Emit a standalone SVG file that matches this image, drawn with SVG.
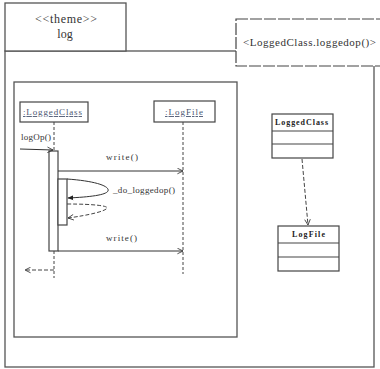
<svg xmlns="http://www.w3.org/2000/svg" width="380" height="369" viewBox="0 0 380 369">
  <style>
    .frame { fill: #fff; stroke: #555; stroke-width: 1.3; }
    .box { fill: #fff; stroke: #444; stroke-width: 1.2; }
    .line { fill: none; stroke: #333; stroke-width: 1; }
    .dash { fill: none; stroke: #444; stroke-width: 1; stroke-dasharray: 4 2; }
    .life { fill: none; stroke: #444; stroke-width: 1; stroke-dasharray: 3 2; }
    .t { font-family: "Liberation Serif", "DejaVu Serif", serif; fill: #333; }
    .lbl { font-size: 9px; }
    .u { text-decoration: underline; fill: #4a5570; }
    .cls { font-size: 8px; font-weight: bold; fill: #222; }
  </style>
  <defs>
    <marker id="open" viewBox="0 0 10 10" refX="9" refY="5" markerWidth="7" markerHeight="7" orient="auto-start-reverse">
      <path d="M1,1 L9,5 L1,9" fill="none" stroke="#333" stroke-width="1.2"/>
    </marker>
    <marker id="filled" viewBox="0 0 10 10" refX="9" refY="5" markerWidth="6" markerHeight="6" orient="auto">
      <path d="M0,1 L10,5 L0,9 Z" fill="#222"/>
    </marker>
  </defs>

  <rect width="380" height="369" fill="#fff"/>

  <!-- package frame with tab -->
  <g id="theme-log">
    <rect class="frame" x="5" y="51" width="369" height="316"/>
    <rect class="frame" x="5" y="3" width="121" height="48"/>
    <text class="t" x="35" y="23" font-size="12" textLength="62" fill="#556">&lt;&lt;theme&gt;&gt;</text>
    <text class="t" x="65" y="38" font-size="12" text-anchor="middle">log</text>
  </g>

  <!-- template parameter box -->
  <g id="template">
    <rect x="236" y="19" width="150" height="47" fill="#fff" stroke="#444" stroke-width="1.2" stroke-dasharray="12 2"/>
    <text class="t" x="243" y="46" font-size="11" textLength="133">&lt;LoggedClass.loggedop()&gt;</text>
  </g>

  <!-- sequence diagram frame -->
  <g id="sequence">
    <rect class="frame" x="14" y="82" width="223" height="255"/>
  </g>

  <g id="lifeline-loggedclass">
    <rect class="box" x="20" y="102" width="68" height="20"/>
    <text class="t lbl u" x="23" y="115" textLength="59">:LoggedClass</text>
  </g>
  <g id="lifeline-logfile">
    <rect class="box" x="154" y="101" width="61" height="21"/>
    <text class="t lbl u" x="165" y="115" textLength="38">:LogFile</text>
  </g>

  <!-- class diagram -->
  <g id="class-loggedclass">
    <rect class="box" x="272" y="114" width="61" height="44"/>
    <line class="box" x1="272" y1="131" x2="333" y2="131"/>
    <line class="box" x1="272" y1="144" x2="333" y2="144"/>
    <text class="t cls" x="275" y="125" textLength="53">LoggedClass</text>
  </g>
  <g id="class-logfile">
    <rect class="box" x="278" y="226" width="61" height="45"/>
    <line class="box" x1="278" y1="243" x2="339" y2="243"/>
    <line class="box" x1="278" y1="257" x2="339" y2="257"/>
    <text class="t cls" x="292" y="237" textLength="33">LogFile</text>
  </g>

  <g id="connectors">
    <!-- lifelines -->
    <line class="life" x1="54" y1="122" x2="54" y2="151"/>
    <line class="life" x1="54" y1="251" x2="54" y2="278"/>
    <line class="life" x1="183" y1="122" x2="183" y2="274"/>

    <!-- activations -->
    <rect class="box" x="49" y="151" width="9" height="100"/>
    <rect class="box" x="58" y="179" width="9" height="46"/>

    <!-- incoming call -->
    <line class="line" x1="20" y1="149" x2="53" y2="150" marker-end="url(#open)"/>
    <text class="t lbl" x="21" y="140" textLength="30">logOp()</text>

    <!-- write() -->
    <line class="line" x1="58" y1="171" x2="183" y2="171" marker-end="url(#open)"/>
    <text class="t lbl" x="106" y="160" textLength="32">write()</text>

    <!-- self call -->
    <path class="line" d="M67,179 C95,181 110,186 108,191 C106,195 90,197 68,198" marker-end="url(#filled)"/>
    <text class="t lbl" x="113" y="193" textLength="62">_do_loggedop()</text>
    <path class="dash" d="M67,204 C95,204 108,206 107,208 C106,211 90,215 68,218" marker-end="url(#open)"/>

    <!-- second write() -->
    <line class="line" x1="58" y1="251" x2="183" y2="251" marker-end="url(#open)"/>
    <text class="t lbl" x="106" y="241" textLength="31">write()</text>

    <!-- return -->
    <line class="dash" x1="54" y1="270" x2="25" y2="270" marker-end="url(#open)"/>

    <!-- dependency -->
    <line class="dash" x1="302" y1="159" x2="308" y2="225" marker-end="url(#open)"/>
  </g>
</svg>
